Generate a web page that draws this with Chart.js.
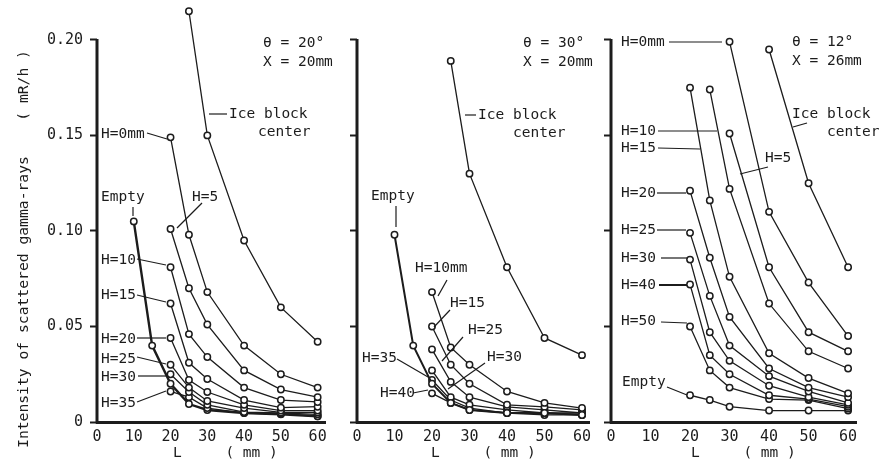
<!DOCTYPE html>
<html>
<head>
<meta charset="utf-8">
<script src="https://cdn.jsdelivr.net/npm/chart.js@4.4.0/dist/chart.umd.min.js"></script>
<style>
  html, body { margin: 0; padding: 0; background: #fff; }
  #wrap { position: relative; width: 880px; height: 464px; overflow: hidden; background: #fff; }
  canvas { position: absolute; top: 0; }
</style>
</head>
<body>
<div id="wrap">
  <canvas id="c1" width="345" height="464" style="left:0px"></canvas>
  <canvas id="c2" width="265" height="464" style="left:330px"></canvas>
  <canvas id="c3" width="285" height="464" style="left:595px"></canvas>
</div>
<script>
const FONT = '"DejaVu Sans Mono", monospace';
const INK = '#1c1c1c';

// L positions (mm) at which each curve was measured
const L_10 = [10, 15, 20, 25, 30, 40, 50, 60];
const L_20 = [20, 25, 30, 40, 50, 60];
const L_25 = [25, 30, 40, 50, 60];
const L_30 = [30, 40, 50, 60];
const L_40 = [40, 50, 60];

const X_TICKS = [0, 10, 20, 30, 40, 50, 60];
const Y_TICKS = [0, 0.05, 0.10, 0.15, 0.20];

// panel 1 : theta = 20 deg, X = 20mm   (mR/h)
const p1Ice   = [0.215, 0.150, 0.095, 0.060, 0.042];
const p1H0    = [0.149, 0.098, 0.068, 0.040, 0.025, 0.018];
const p1H5    = [0.101, 0.070, 0.051, 0.027, 0.017, 0.013];
const p1H10   = [0.081, 0.046, 0.034, 0.018, 0.0115, 0.0105];
const p1H15   = [0.062, 0.031, 0.0225, 0.0115, 0.0075, 0.008];
const p1H20   = [0.044, 0.022, 0.0157, 0.009, 0.006, 0.006];
const p1H25   = [0.030, 0.018, 0.011, 0.0073, 0.005, 0.005];
const p1H30   = [0.025, 0.0157, 0.009, 0.0052, 0.0047, 0.004];
const p1H35   = [0.016, 0.013, 0.0073, 0.0047, 0.0042, 0.003];
const p1Empty = [0.105, 0.040, 0.020, 0.0094, 0.0063, 0.0047, 0.004, 0.003];

// panel 2 : theta = 30 deg, X = 20mm
const p2Ice   = [0.189, 0.130, 0.081, 0.044, 0.035];
const p2Empty = [0.098, 0.040, 0.020, 0.010, 0.0063, 0.0047, 0.0047, 0.0037];
const p2H10   = [0.068, 0.039, 0.030, 0.016, 0.010, 0.0073];
const p2H15   = [0.050, 0.030, 0.020, 0.009, 0.0079, 0.0063];
const p2H25   = [0.038, 0.021, 0.013, 0.0079, 0.0063, 0.0047];
const p2H30   = [0.027, 0.013, 0.009, 0.0063, 0.0047, 0.0047];
const p2H35   = [0.022, 0.0115, 0.0073, 0.0047, 0.0047, 0.0037];
const p2H40   = [0.015, 0.010, 0.0063, 0.0047, 0.0037, 0.0037];

// panel 3 : theta = 12 deg, X = 26mm
const p3Ice   = [0.195, 0.125, 0.081];
const p3H0    = [0.199, 0.110, 0.073, 0.045];
const p3H5    = [0.151, 0.081, 0.047, 0.037];
const p3H10   = [0.174, 0.122, 0.062, 0.037, 0.028];
const p3H15   = [0.175, 0.116, 0.076, 0.036, 0.023, 0.015];
const p3H20   = [0.121, 0.086, 0.055, 0.028, 0.018, 0.013];
const p3H25   = [0.099, 0.066, 0.040, 0.024, 0.016, 0.010];
const p3H30   = [0.085, 0.047, 0.032, 0.019, 0.013, 0.009];
const p3H40   = [0.072, 0.035, 0.025, 0.014, 0.012, 0.008];
const p3H50   = [0.050, 0.027, 0.018, 0.012, 0.0115, 0.007];
const p3Empty = [0.014, 0.0115, 0.008, 0.006, 0.006, 0.006];

// labels and leader lines, page pixels
const notes1 = [
  ['θ = 20°', 263, 43], ['X = 20mm', 263, 62], ['Ice block', 229, 114], ['center', 258, 132],
  ['H=0mm', 101, 134], ['Empty', 101, 197], ['H=5', 192, 197], ['H=10', 101, 260],
  ['H=15', 101, 295], ['H=20', 101, 339], ['H=25', 101, 359], ['H=30', 101, 377],
  ['H=35', 101, 403], ['L     ( mm )', 173, 453]
];
const leaders1 = [
  [209, 114, 227, 114], [147, 133, 167, 139], [133, 207, 133, 216], [202, 203, 177, 228],
  [137, 259, 166, 265], [137, 295, 166, 302], [137, 338, 166, 338], [137, 357, 166, 364],
  [138, 376, 166, 376], [137, 402, 166, 391]
];
const notes2 = [
  ['θ = 30°', 523, 43], ['X = 20mm', 523, 62], ['Ice block', 478, 115], ['center', 513, 133],
  ['Empty', 371, 196], ['H=10mm', 415, 268], ['H=15', 450, 303], ['H=25', 468, 330],
  ['H=30', 487, 357], ['H=35', 362, 358], ['H=40', 380, 393], ['L     ( mm )', 431, 453]
];
const leaders2 = [
  [465, 115, 476, 115], [396, 206, 396, 227], [447, 280, 438, 296], [450, 310, 434, 327],
  [463, 337, 442, 361], [485, 363, 448, 389], [397, 359, 428, 377], [413, 393, 428, 390]
];
const notes3 = [
  ['H=0mm', 621, 42], ['θ = 12°', 792, 42], ['X = 26mm', 792, 61], ['Ice block', 792, 114],
  ['center', 827, 132], ['H=10', 621, 131], ['H=15', 621, 148], ['H=5', 765, 158],
  ['H=20', 621, 193], ['H=25', 621, 230], ['H=30', 621, 258], ['H=40', 621, 285],
  ['H=50', 621, 321], ['Empty', 622, 382], ['L     ( mm )', 691, 453]
];
const leaders3 = [
  [669, 42, 722, 42], [793, 127, 807, 123], [658, 131, 717, 131], [658, 148, 700, 149],
  [740, 174, 768, 167], [657, 193, 686, 193], [657, 230, 686, 230], [661, 258, 687, 258],
  [659, 285, 687, 285, 2], [661, 322, 687, 323], [667, 387, 687, 395]
];

function curve(ls, vs, width) {
  return {
    data: ls.map((l, i) => ({ x: l, y: vs[i] })),
    borderColor: INK,
    borderWidth: width || 1.3,
    pointRadius: 3.2,
    pointBackgroundColor: '#fff',
    pointBorderColor: INK,
    pointBorderWidth: 1.5,
    tension: 0,
    clip: false
  };
}

function notesPlugin(offset, notes, leaders, yTitle) {
  return {
    id: 'notes',
    afterDraw(chart) {
      const ctx = chart.ctx;
      const ys = chart.scales.y;
      const left = chart.chartArea.left;
      ctx.save();
      // vertical axis only up to 0.20
      ctx.strokeStyle = INK;
      ctx.lineWidth = 3;
      ctx.beginPath();
      ctx.moveTo(left, ys.getPixelForValue(0) + 1.5);
      ctx.lineTo(left, ys.getPixelForValue(0.2) - 1);
      ctx.stroke();

      leaders.forEach(function (s) {
        ctx.lineWidth = s[4] || 1.2;
        ctx.beginPath();
        ctx.moveTo(s[0] - offset, s[1]);
        ctx.lineTo(s[2] - offset, s[3]);
        ctx.stroke();
      });

      ctx.fillStyle = INK;
      ctx.font = '14.5px ' + FONT;
      ctx.textBaseline = 'middle';
      ctx.textAlign = 'left';
      notes.forEach(function (n) {
        ctx.fillText(n[0], n[1] - offset, n[2]);
      });

      if (yTitle) {
        ctx.translate(24 - offset, 249);
        ctx.rotate(-Math.PI / 2);
        ctx.textAlign = 'center';
        ctx.font = '14.7px ' + FONT;
        ctx.fillText(yTitle, 0, 0);
      }
      ctx.restore();
    }
  };
}

function noPad(s) {
  s.paddingTop = 0; s.paddingBottom = 0; s.paddingLeft = 0; s.paddingRight = 0;
}

function panel(id, offset, yWidth, padRight, datasets, notes, leaders, showY, yTitle) {
  return new Chart(document.getElementById(id), {
    type: 'line',
    data: { datasets: datasets },
    options: {
      responsive: false,
      animation: false,
      layout: { padding: { left: 0, right: padRight, top: 0, bottom: 0 } },
      plugins: { legend: { display: false }, tooltip: { enabled: false } },
      scales: {
        x: {
          type: 'linear', min: 0, max: 62,
          afterBuildTicks: s => { s.ticks = X_TICKS.map(v => ({ value: v })); },
          afterFit: s => { s.height = 42; noPad(s); },
          grid: { display: false, drawTicks: false },
          border: { display: true, width: 3, color: INK },
          ticks: { font: { family: FONT, size: 15 }, color: INK, padding: 6, maxRotation: 0, autoSkip: false }
        },
        y: {
          type: 'linear', min: 0, max: 0.218,
          afterBuildTicks: s => { s.ticks = Y_TICKS.map(v => ({ value: v })); },
          afterFit: s => { s.width = yWidth; noPad(s); },
          grid: { drawOnChartArea: false, drawTicks: true, tickLength: 7, tickWidth: 2, tickColor: INK, color: INK },
          border: { display: false },
          ticks: {
            display: showY, font: { family: FONT, size: 15 }, color: INK, padding: 7,
            callback: v => (v === 0 ? '0' : v.toFixed(2))
          }
        }
      }
    },
    plugins: [notesPlugin(offset, notes, leaders, yTitle)]
  });
}

panel('c1', 0, 97, 20, [
  curve(L_25, p1Ice), curve(L_20, p1H0), curve(L_20, p1H5), curve(L_20, p1H10),
  curve(L_20, p1H15), curve(L_20, p1H20), curve(L_20, p1H25), curve(L_20, p1H30),
  curve(L_20, p1H35), curve(L_10, p1Empty, 2.4)
], notes1, leaders1, true, 'Intensity of scattered gamma-rays    ( mR/h )');

panel('c2', 330, 27, 4.5, [
  curve(L_25, p2Ice), curve(L_10, p2Empty, 2), curve(L_20, p2H10), curve(L_20, p2H15),
  curve(L_20, p2H25), curve(L_20, p2H30), curve(L_20, p2H35), curve(L_20, p2H40)
], notes2, leaders2, false, null);

panel('c3', 595, 16, 24, [
  curve(L_40, p3Ice), curve(L_30, p3H0), curve(L_30, p3H5), curve(L_25, p3H10),
  curve(L_20, p3H15), curve(L_20, p3H20), curve(L_20, p3H25), curve(L_20, p3H30),
  curve(L_20, p3H40), curve(L_20, p3H50), curve(L_20, p3Empty)
], notes3, leaders3, false, null);
</script>
</body>
</html>
